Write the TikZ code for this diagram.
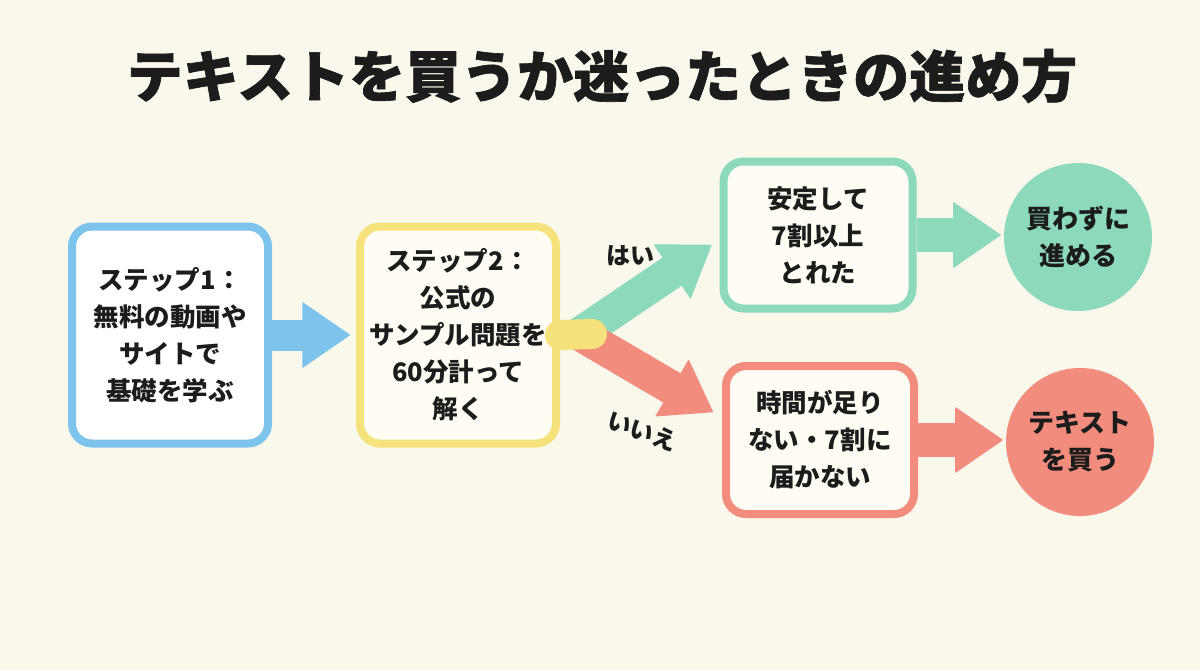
\documentclass[tikz,border=0pt]{standalone}
\usepackage{fontspec}
\setmainfont{Noto Sans CJK JP}
\usetikzlibrary{arrows.meta,calc}
\definecolor{bg}{HTML}{FAF7EB}
\definecolor{cblue}{HTML}{7EC3EC}
\definecolor{cyellow}{HTML}{F6E27C}
\definecolor{cgreen}{HTML}{8DD9BC}
\definecolor{cred}{HTML}{F28C7D}
\definecolor{boxfill}{HTML}{FFFDF3}
\definecolor{ink}{HTML}{1C1C1C}
\tikzset{
  box/.style={draw=#1, rounded corners=20pt, line width=8pt, fill=boxfill, align=center, text=ink,
    font=\bfseries\fontsize{25.5}{37}\selectfont, inner sep=0pt},
  endc/.style={circle, fill=#1, minimum size=148pt, inner sep=0pt, align=center, text=ink,
    font=\bfseries\fontsize{26}{37}\selectfont},
  fat/.style={draw=#1, line width=34pt,
    -{Triangle[length=48pt,width=66pt,line width=1pt,round]}},
  lbl/.style={text=ink, font=\bfseries\fontsize{24}{28}\selectfont}
}
\begin{document}
\begin{tikzpicture}[x=1pt,y=-1pt]
\fill[bg] (0,0) rectangle (1200,670);
\useasboundingbox (0,0) rectangle (1200,670);

\node[text=ink, font=\bfseries\fontsize{56}{62}\selectfont\addfontfeatures{FakeBold=1.2}] (title) at (602,76) {テキストを買うか迷ったときの進め方};

\node[box=cblue, fill=white, minimum width=196pt, minimum height=217pt] (b1) at (170,335)
  {ステップ1：\\無料の動画や\\サイトで\\基礎を学ぶ};
\node[box=cyellow, minimum width=196pt, minimum height=217pt] (b2) at (458,335)
  {ステップ2：\\公式の\\サンプル問題を\\60分計って\\解く};
\node[box=cgreen, minimum width=189pt, minimum height=147pt] (b3) at (818,235)
  {安定して\\7割以上\\とれた};
\node[box=cred, minimum width=188pt, minimum height=148pt] (b4) at (820,440)
  {時間が足り\\ない・7割に\\届かない};
\node[endc=cgreen] (c1) at (1078,237) {買わずに\\進める};
\node[endc=cred] (c2) at (1080,442) {テキスト\\を買う};

% straight arrows
\draw[fat=cblue, line width=31pt] (b1.east) -- ([xshift=-6pt]b2.west);
\draw[fat=cgreen] (b3.east) -- ([xshift=-3pt]b3.east -| c1.west);
\draw[fat=cred] (b4.east) -- ([xshift=-3pt]b4.east -| c2.west);

% split
\coordinate (split) at (592,334);
\coordinate (gtip) at ([xshift=-8pt,yshift=-10pt]b3.west);
\coordinate (rtip) at ([xshift=-9pt,yshift=28pt]b4.west);
\draw[fat=cgreen] ($(split)+(-12,0)$) -- (gtip);
\draw[fat=cred] ($(split)+(-12,0)$) -- (rtip);
\draw[cyellow, line width=30pt, line cap=round] (b2.east) -- (split);

\node[lbl] (yes) at (630,256) {はい};
\node[lbl, rotate=-20] (no) at (642,431) {いいえ};
\end{tikzpicture}
\end{document}
